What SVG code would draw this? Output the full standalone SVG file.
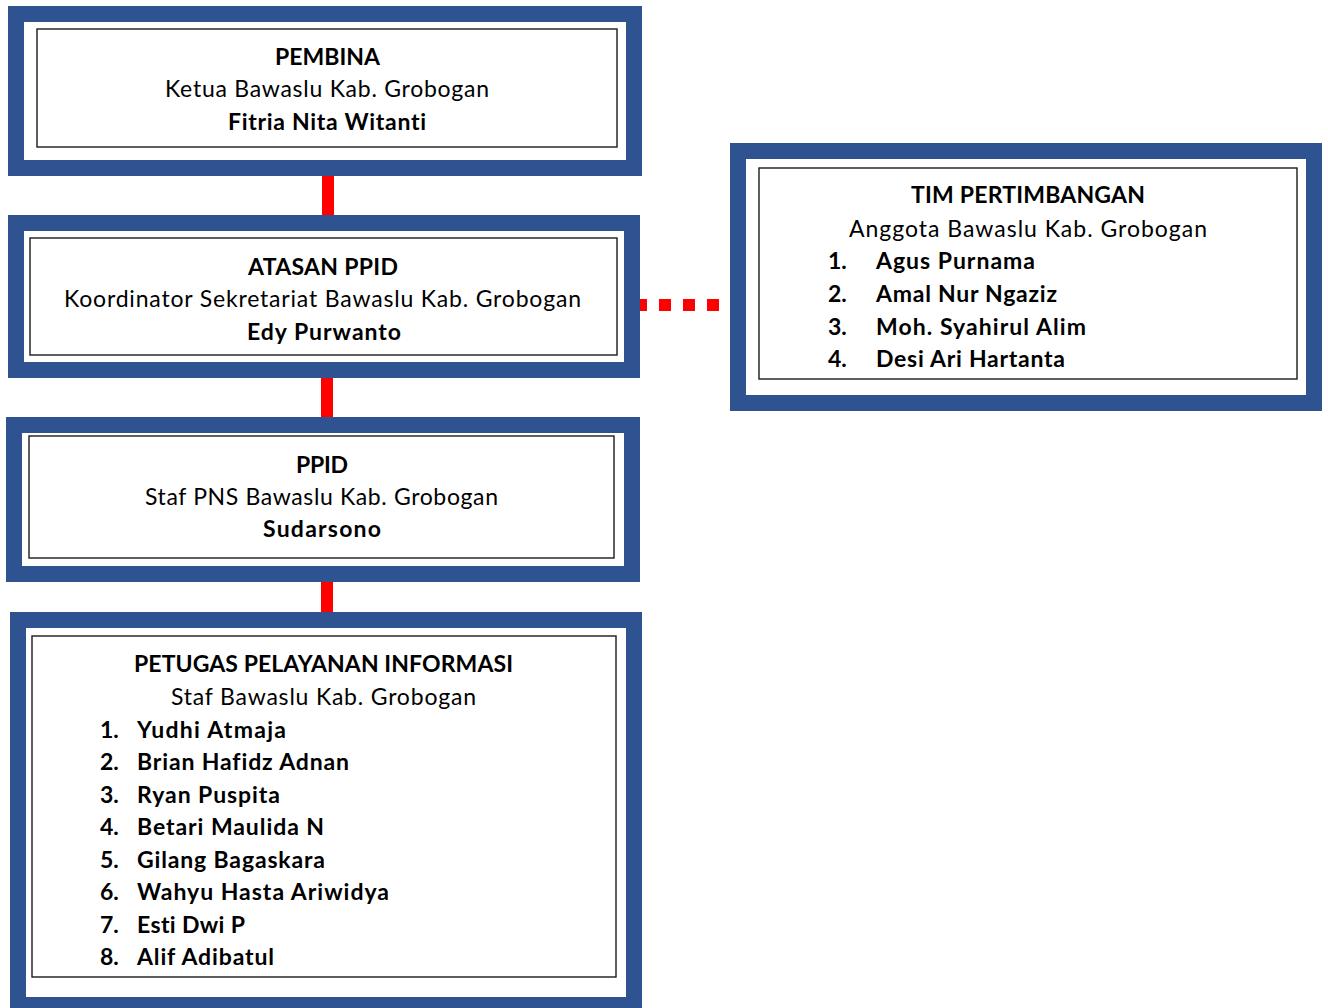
<svg xmlns="http://www.w3.org/2000/svg" width="1328" height="1008" viewBox="0 0 1328 1008">
<style>
.outer{fill:#fff;stroke:#2F5291;stroke-width:16}
.inner{fill:#fff;stroke:#1a1a1a;stroke-width:1.4}
text{font-family:Lato,"Liberation Sans",sans-serif;font-size:23px;fill:#000;font-variant-ligatures:none}
.b{font-weight:bold}
.c{text-anchor:middle}
.conn{stroke:#FF0000;stroke-width:12;fill:none}
</style>
<rect width="1328" height="1008" fill="#fff"/>
<g id="connectors">
<line class="conn" x1="328" y1="170" x2="328" y2="220"/>
<line class="conn" x1="327" y1="372" x2="327" y2="422"/>
<line class="conn" x1="327" y1="576" x2="327" y2="617"/>
<line class="conn" x1="635" y1="305" x2="720" y2="305" stroke-dasharray="12 12"/>
</g>
<g id="pembina">
<rect class="outer" x="16" y="14" width="618" height="154"/>
<rect class="inner" x="37" y="29" width="580" height="118"/>
<text class="b c" x="327.5" y="65" textLength="105" lengthAdjust="spacing">PEMBINA</text>
<text class="c" x="327" y="97" textLength="324" lengthAdjust="spacing">Ketua Bawaslu Kab. Grobogan</text>
<text class="b c" x="327" y="130" textLength="198" lengthAdjust="spacing">Fitria Nita Witanti</text>
</g>
<g id="atasan">
<rect class="outer" x="16" y="223" width="616" height="147"/>
<rect class="inner" x="30" y="238" width="587" height="117"/>
<text class="b c" x="323" y="275" textLength="150" lengthAdjust="spacing">ATASAN PPID</text>
<text class="c" x="322.5" y="307" textLength="517" lengthAdjust="spacing">Koordinator Sekretariat Bawaslu Kab. Grobogan</text>
<text class="b c" x="324" y="340" textLength="154" lengthAdjust="spacing">Edy Purwanto</text>
</g>
<g id="ppid">
<rect class="outer" x="14" y="425" width="618" height="149"/>
<rect class="inner" x="29" y="436" width="585" height="122"/>
<text class="b c" x="322" y="473" textLength="52" lengthAdjust="spacing">PPID</text>
<text class="c" x="321.5" y="505" textLength="353" lengthAdjust="spacing">Staf PNS Bawaslu Kab. Grobogan</text>
<text class="b c" x="322" y="537" textLength="118" lengthAdjust="spacing">Sudarsono</text>
</g>
<g id="petugas">
<rect class="outer" x="18" y="620" width="616" height="385"/>
<rect class="inner" x="32" y="636" width="584" height="341"/>
<text class="b c" x="323.5" y="672" textLength="379" lengthAdjust="spacing">PETUGAS PELAYANAN INFORMASI</text>
<text class="c" x="323.5" y="705" textLength="305" lengthAdjust="spacing">Staf Bawaslu Kab. Grobogan</text>
<text class="b" x="100" y="738">1.</text><text class="b" x="137" y="738" textLength="149" lengthAdjust="spacing">Yudhi Atmaja</text>
<text class="b" x="100" y="770">2.</text><text class="b" x="137" y="770" textLength="212" lengthAdjust="spacing">Brian Hafidz Adnan</text>
<text class="b" x="100" y="803">3.</text><text class="b" x="137" y="803" textLength="143" lengthAdjust="spacing">Ryan Puspita</text>
<text class="b" x="100" y="835">4.</text><text class="b" x="137" y="835" textLength="187" lengthAdjust="spacing">Betari Maulida N</text>
<text class="b" x="100" y="868">5.</text><text class="b" x="137" y="868" textLength="188" lengthAdjust="spacing">Gilang Bagaskara</text>
<text class="b" x="100" y="900">6.</text><text class="b" x="137" y="900" textLength="252" lengthAdjust="spacing">Wahyu Hasta Ariwidya</text>
<text class="b" x="100" y="933">7.</text><text class="b" x="137" y="933" textLength="108" lengthAdjust="spacing">Esti Dwi P</text>
<text class="b" x="100" y="965">8.</text><text class="b" x="137" y="965" textLength="137" lengthAdjust="spacing">Alif Adibatul</text>
</g>
<g id="tim">
<rect class="outer" x="738" y="151" width="576" height="252"/>
<rect class="inner" x="759" y="168" width="538" height="211"/>
<text class="b c" x="1028" y="203" textLength="234" lengthAdjust="spacing">TIM PERTIMBANGAN</text>
<text class="c" x="1028" y="237" textLength="358" lengthAdjust="spacing">Anggota  Bawaslu Kab. Grobogan</text>
<text class="b" x="828" y="269">1.</text><text class="b" x="876" y="269" textLength="159" lengthAdjust="spacing">Agus Purnama</text>
<text class="b" x="828" y="302">2.</text><text class="b" x="876" y="302" textLength="181" lengthAdjust="spacing">Amal Nur Ngaziz</text>
<text class="b" x="828" y="335">3.</text><text class="b" x="876" y="335" textLength="210" lengthAdjust="spacing">Moh. Syahirul Alim</text>
<text class="b" x="828" y="367">4.</text><text class="b" x="876" y="367" textLength="189" lengthAdjust="spacing">Desi Ari Hartanta</text>
</g>
</svg>
